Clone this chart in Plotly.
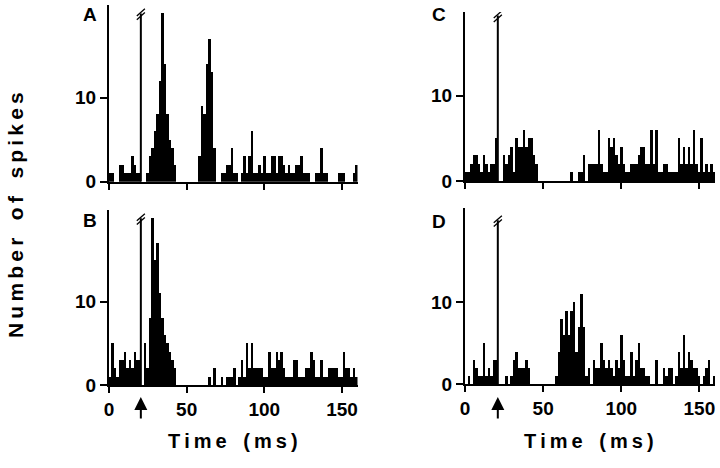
import plotly.graph_objects as go

BIN_MS = 1.6
x_ticks = [0, 50, 100, 150]
y_ticks = [0, 10]
panel_labels = ["A", "B", "C", "D"]
stim_ms = [20.5, 20.5, 21.0, 21.0]

counts_A = [1, 1, 0, 0, 2, 2, 1, 1, 1, 3, 2, 1, 1, 0, 0, 1, 3, 4, 6, 8,
            12, 20, 14, 8, 5, 4, 2, 0, 0, 0, 0, 0, 0, 0, 0, 0, 3, 9, 8, 14,
            17, 13, 4, 0, 0, 1, 1, 2, 2, 4, 1, 1, 0, 1, 3, 1, 3, 6, 1, 1,
            2, 1, 3, 1, 1, 3, 3, 1, 3, 3, 2, 1, 2, 1, 1, 2, 2, 3, 1, 1,
            1, 0, 0, 1, 1, 4, 1, 1, 0, 0, 0, 0, 1, 1, 1, 0, 0, 0, 1, 2]
counts_B = [1, 5, 2, 1, 3, 3, 4, 2, 3, 2, 4, 3, 3, 0, 5, 2, 8, 20, 15, 17,
            11, 8, 6, 5, 4, 3, 2, 0, 0, 0, 0, 0, 0, 0, 0, 0, 0, 0, 0, 0,
            1, 0, 2, 0, 0, 1, 0, 1, 1, 1, 2, 0, 1, 3, 1, 5, 2, 5, 2, 2,
            2, 2, 1, 1, 4, 2, 2, 4, 3, 4, 2, 1, 1, 1, 3, 3, 1, 1, 1, 2,
            2, 4, 3, 1, 1, 3, 1, 1, 2, 2, 2, 2, 1, 1, 4, 2, 2, 1, 2, 1]
counts_C = [1, 1, 2, 3, 3, 2, 1, 3, 2, 1, 2, 2, 5, 0, 0, 3, 2, 3, 4, 1,
            5, 4, 4, 6, 4, 5, 5, 3, 2, 0, 0, 0, 0, 0, 0, 0, 0, 0, 0, 0,
            0, 0, 1, 0, 0, 1, 1, 3, 0, 2, 2, 2, 2, 6, 2, 1, 1, 5, 4, 5,
            3, 2, 4, 2, 1, 1, 2, 2, 2, 3, 4, 4, 2, 2, 6, 2, 6, 1, 1, 2,
            2, 1, 1, 1, 1, 5, 2, 4, 2, 4, 2, 6, 2, 1, 5, 1, 2, 1, 2, 1]
counts_D = [0, 1, 0, 3, 2, 1, 1, 5, 1, 2, 1, 3, 3, 0, 0, 0, 1, 0, 1, 3,
            4, 2, 2, 2, 3, 2, 0, 0, 0, 0, 0, 0, 0, 0, 0, 0, 1, 4, 8, 6,
            9, 6, 9, 10, 4, 7, 11, 7, 1, 2, 0, 3, 2, 2, 5, 3, 2, 3, 2, 1,
            3, 2, 6, 3, 1, 1, 4, 1, 3, 5, 2, 2, 1, 1, 0, 0, 3, 0, 0, 2,
            1, 2, 2, 0, 1, 4, 2, 6, 2, 4, 3, 2, 2, 1, 0, 1, 2, 3, 0, 1]

W, H = 720, 468

def fx(p):
    return min(max(p / W, 0.0), 1.0)

def fy(p):
    return min(max(1 - p / H, 0.0), 1.0)

# panel geometry in pixels: (x0, x1, y_base, y_top, ymax)
panels = [
    (109, 357.5, 181.7, 5.0, 21.0),
    (109, 357.5, 385.0, 210.0, 21.0),
    (465, 715.0, 181.0, 12.1, 19.8),
    (465, 715.0, 384.3, 208.0, 21.5),
]
label_pos = [(90, 14), (90, 220), (439, 15), (439, 221)]
all_counts = [counts_A, counts_B, counts_C, counts_D]

FONT = "Liberation Sans, Arial, Helvetica, sans-serif"
TS = "\u2009"

def spaced(word):
    return TS.join(word)

fig = go.Figure()
layout = dict(width=W, height=H, margin=dict(l=0, r=0, t=0, b=0, autoexpand=False),
              paper_bgcolor="white", plot_bgcolor="white", showlegend=False,
              bargap=0)
annotations = []
shapes = []
for i, ((x0, x1, yb, yt, ymax), counts) in enumerate(zip(panels, all_counts)):
    n = i + 1
    xa = "x" if n == 1 else f"x{n}"
    ya = "y" if n == 1 else f"y{n}"
    centers = [BIN_MS * k + BIN_MS / 2 for k in range(len(counts))]
    fig.add_trace(go.Bar(x=centers, y=counts, width=BIN_MS, marker_color="black",
                         marker_line_width=0, xaxis=xa, yaxis=ya))
    stop = 20.0 if i != 2 else 19.4
    fig.add_trace(go.Scatter(x=[stim_ms[i], stim_ms[i]], y=[0, stop], mode="lines",
                             line=dict(color="black", width=2), xaxis=xa, yaxis=ya,
                             hoverinfo="skip"))
    # "//" break mark
    for off in [0.0, 0.45]:
        shapes.append(dict(type="line", xref=xa, yref=ya,
                           x0=stim_ms[i] - 2.6, y0=stop - 0.75 + off,
                           x1=stim_ms[i] + 2.6, y1=stop + 0.1 + off,
                           line=dict(color="black", width=1.3)))
    bottom = i in (1, 3)
    xkey = "xaxis" if n == 1 else f"xaxis{n}"
    ykey = "yaxis" if n == 1 else f"yaxis{n}"
    layout[xkey] = dict(domain=[fx(x0), fx(x1)], range=[0, 160], anchor=ya,
                        showline=True, linecolor="black", linewidth=2,
                        ticks="outside", ticklen=6, tickwidth=2, tickcolor="black",
                        tickvals=x_ticks, showticklabels=bottom, automargin=False,
                        tickfont=dict(family=FONT, size=19, color="black", weight="bold"),
                        showgrid=False, zeroline=False, fixedrange=True)
    layout[ykey] = dict(domain=[fy(yb), fy(yt)], range=[0, ymax], anchor=xa,
                        showline=True, linecolor="black", linewidth=2,
                        ticks="outside", ticklen=7, tickwidth=2, tickcolor="black",
                        tickvals=y_ticks, ticktext=[str(v) for v in y_ticks],
                        automargin=False,
                        tickfont=dict(family=FONT, size=19, color="black", weight="bold"),
                        showgrid=False, zeroline=False, fixedrange=True)
    lx, ly = label_pos[i]
    annotations.append(dict(text=panel_labels[i], x=fx(lx), y=fy(ly),
                            xref="paper", yref="paper", showarrow=False,
                            xanchor="center", yanchor="middle",
                            font=dict(family=FONT, size=19, color="black", weight="bold")))
    if bottom:
        annotations.append(dict(x=stim_ms[i], y=fy(397), xref=xa, yref="paper",
                                ax=0, ay=23, text="", showarrow=True, arrowhead=2,
                                arrowsize=1.3, arrowwidth=2, arrowcolor="black"))
        annotations.append(dict(text=spaced("Time") + "   " + spaced("(ms)"),
                                x=fx(x0 + 124), y=fy(441),
                                xref="paper", yref="paper", showarrow=False,
                                xanchor="center", yanchor="middle",
                                font=dict(family=FONT, size=20, color="black", weight="bold")))

annotations.append(dict(text=spaced("Number") + "   " + spaced("of") + "   " + spaced("spikes"),
                        x=fx(16), y=fy(215), xref="paper",
                        yref="paper", showarrow=False, textangle=-90,
                        xanchor="center", yanchor="middle",
                        font=dict(family=FONT, size=21, color="black", weight="bold")))
layout["annotations"] = annotations
layout["shapes"] = shapes
fig.update_layout(**layout)
fig.write_html("out.html", config={"displayModeBar": False, "staticPlot": True},
               post_script="document.body.style.margin='0px';document.body.style.overflow='hidden';")
